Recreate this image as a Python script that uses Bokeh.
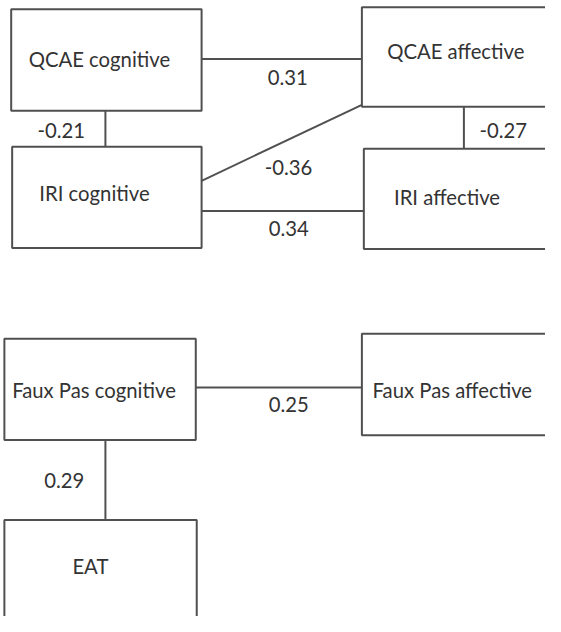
from bokeh.plotting import figure
from bokeh.models import Range1d, ColumnDataSource
from bokeh.core.properties import value
from bokeh.embed import file_html
from bokeh.resources import INLINE

# ---- data ----
node_names = ["QCAE cognitive", "QCAE affective", "IRI cognitive", "IRI affective",
              "Faux Pas cognitive", "Faux Pas affective", "EAT"]
edge_from = ["QCAE cognitive", "QCAE affective", "QCAE cognitive", "IRI cognitive",
             "IRI cognitive", "Faux Pas cognitive", "Faux Pas cognitive"]
edge_to = ["QCAE affective", "IRI affective", "IRI cognitive", "QCAE affective",
           "IRI affective", "Faux Pas affective", "EAT"]
edge_values = [0.31, -0.27, -0.21, -0.36, 0.34, 0.25, 0.29]

# ---- layout (reference pixel coordinates) ----
box_left = [11, 372, 12, 374, 4, 372, 4]
box_right = [580, 580, 207, 580, 201, 580, 202]
box_right[0] = 207
box_top = [9, 7, 150, 152, 347, 342, 533]
box_bottom = [113, 109, 254, 255, 451, 446, 660]
text_x = [29, 398, 40, 405, 12, 383, 74]
text_y = [60, 52, 197, 202, 400, 400, 580]

edge_x0 = [207, 477, 108, 207, 207, 201, 108]
edge_y0 = [60, 109, 113, 185, 216, 397, 451]
edge_x1 = [372, 477, 108, 372, 374, 372, 108]
edge_y1 = [60, 152, 150, 107, 216, 397, 533]
label_x = [275, 493, 38, 272, 276, 276, 45]
label_y = [79, 133, 133, 171, 234, 414, 492]

W, H = 545, 616
p = figure(width=W, height=H, output_backend="svg", toolbar_location=None,
           x_range=Range1d(0, 561), y_range=Range1d(632, 0),
           min_border=0, outline_line_color=None)
p.axis.visible = False
p.grid.visible = False
p.background_fill_color = "white"
p.border_fill_color = "white"

line_col = "#505050"
text_col = "#333333"
font = value("Lato")

p.segment(x0=edge_x0, y0=edge_y0, x1=edge_x1, y1=edge_y1,
          line_color=line_col, line_width=2)

nodes = ColumnDataSource(dict(name=node_names, l=box_left, r=box_right,
                              t=box_top, b=box_bottom, tx=text_x, ty=text_y))
p.quad(left="l", right="r", top="t", bottom="b", source=nodes,
       fill_color="white", line_color=line_col, line_width=2)
p.text(x="tx", y="ty", text="name", source=nodes, text_font=font,
       text_font_size="20.3px", text_color=text_col,
       text_align="left", text_baseline="middle")

labels = ColumnDataSource(dict(x=label_x, y=label_y,
                               t=[f"{v:.2f}" for v in edge_values]))
p.text(x="x", y="y", text="t", source=labels, text_font=font,
       text_font_size="20.3px", text_color=text_col,
       text_align="left", text_baseline="middle")

open("out.html", "w").write(file_html(p, INLINE))
